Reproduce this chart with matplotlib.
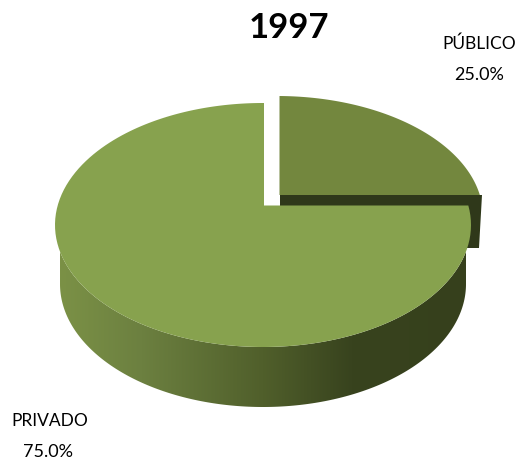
import matplotlib.pyplot as plt
import numpy as np
from matplotlib.colors import LinearSegmentedColormap
from matplotlib.patches import Polygon

title = '1997'
labels = ['PÚBLICO', 'PRIVADO']
values = [25.0, 75.0]

W, H = 518, 463
TOP_BIG = '#87a24e'
TOP_SMALL = '#73873e'
DARK = '#2f381a'
FONT = 'Lato'


def slice_outline(start_deg, sweep_deg, apex, center, rx, ry):
    # rays from the apex (it sits above the ellipse centre) out to the ellipse
    pts = [apex]
    for a in np.radians(np.linspace(start_deg, start_deg + sweep_deg, 200)):
        dx, dy = np.sin(a), -np.cos(a)
        ox, oy = apex[0] - center[0], apex[1] - center[1]
        qa = (dx / rx) ** 2 + (dy / ry) ** 2
        qb = 2 * (ox * dx / rx ** 2 + oy * dy / ry ** 2)
        qc = (ox / rx) ** 2 + (oy / ry) ** 2 - 1
        t = (-qb + np.sqrt(qb ** 2 - 4 * qa * qc)) / (2 * qa)
        pts.append((apex[0] + t * dx, apex[1] + t * dy))
    return np.array(pts)


fig = plt.figure(figsize=(W / 100, H / 100), dpi=100)
ax = fig.add_axes([0, 0, 1, 1])

sweep_small = 360 * values[0] / sum(values)
sweep_big = 360 * values[1] / sum(values)

# cut face of the pulled out slice
ax.add_patch(Polygon([(280, 195), (482, 195), (479, 248), (280, 248)],
                     facecolor=DARK, edgecolor='none', zorder=1))

# top of the small slice
small = slice_outline(0, sweep_small, (279.5, 195), (277, 216), 206, 120)
ax.add_patch(Polygon(small, facecolor=TOP_SMALL, edgecolor='none', zorder=2))

# side wall of the big slice with a gradient
t = np.radians(np.linspace(180, 360, 200))
upper = np.column_stack([263 + 208 * np.cos(t), 225 - 122 * np.sin(t)])
lower = np.column_stack([263 + 203 * np.cos(t), 284 - 123 * np.sin(t)])
wall = Polygon(np.vstack([upper, lower[::-1]]), facecolor='none', edgecolor='none')
ax.add_patch(wall)
cmap = LinearSegmentedColormap.from_list(
    'wall', [(0, '#7b9146'), (0.2, '#6c8040'), (0.5, '#505f2b'), (0.72, '#38431e'), (1, '#36401c')])
img = ax.imshow(np.linspace(0, 1, 256).reshape(1, -1), cmap=cmap, aspect='auto',
                extent=(60, 466, 410, 220), zorder=3)
img.set_clip_path(wall)

# top of the big slice
big = slice_outline(sweep_small, sweep_big, (264, 205.5), (263, 225), 208, 122)
ax.add_patch(Polygon(big, facecolor=TOP_BIG, edgecolor='none', zorder=4))

ax.text(288.5, 28, title, family=FONT, fontweight='bold', fontsize=25,
        ha='center', va='center', color='black')
ax.text(479, 44, labels[0], family=FONT, fontsize=12.5, ha='center', va='center', color='black')
ax.text(479, 75, f'{values[0]:.1f}%', family=FONT, fontsize=13, ha='center', va='center', color='black')
ax.text(50, 421, labels[1], family=FONT, fontsize=12.5, ha='center', va='center', color='black')
ax.text(48, 452, f'{values[1]:.1f}%', family=FONT, fontsize=13, ha='center', va='center', color='black')

ax.set_xlim(0, W)
ax.set_ylim(H, 0)
ax.axis('off')

fig.savefig('out.png', dpi=100)
